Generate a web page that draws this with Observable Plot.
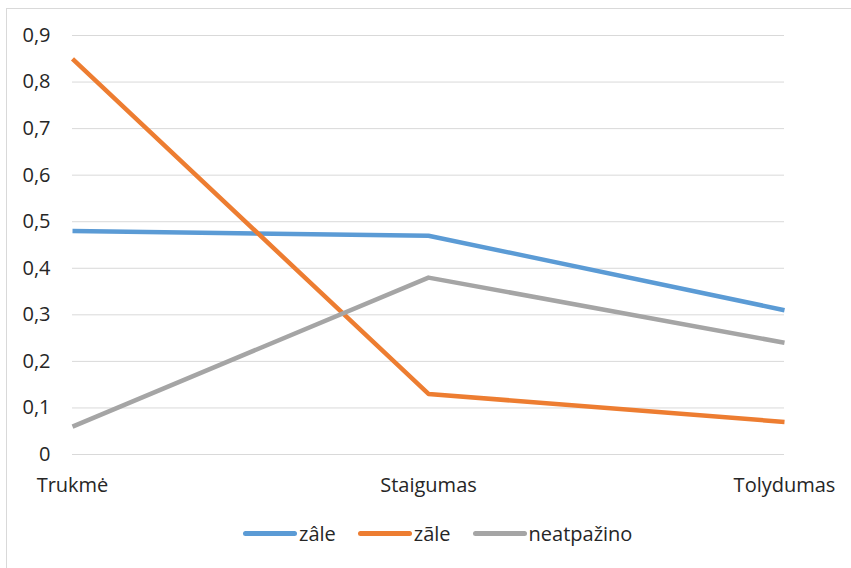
<!DOCTYPE html>
<html>
<head>
<meta charset="utf-8">
<script src="https://cdn.jsdelivr.net/npm/d3@7"></script>
<script src="https://cdn.jsdelivr.net/npm/@observablehq/plot@0.6"></script>
<style>
  body { margin: 0; background: #fff; font-family: "Open Sans", sans-serif; }
  #wrap { position: relative; width: 851px; height: 568px; overflow: hidden; }
  #frame { position: absolute; left: 6px; top: 8px; width: 850px; height: 570px;
           border-left: 1px solid #d9d9d9; border-top: 1px solid #d9d9d9; }
  #chart { position: absolute; left: 0; top: 0; }
  #legend { position: absolute; left: 243px; top: 520px; display: flex; align-items: center;
            font-size: 20px; color: #262626; }
  .item { display: flex; align-items: center; margin-right: 22px; }
  .sw { width: 54px; height: 5px; border-radius: 3px; margin-right: 2px; }
</style>
</head>
<body>
<div id="wrap">
  <div id="frame"></div>
  <div id="chart"></div>
  <div id="legend"></div>
</div>
<script>
const categories = ["Trukmė", "Staigumas", "Tolydumas"];
const seriesNames = ["zâle", "zãle", "neatpažino"];
const zale1 = [0.48, 0.47, 0.31];
const zale2 = [0.85, 0.13, 0.07];
const neatpazino = [0.06, 0.38, 0.24];
const colors = ["#5B9BD5", "#ED7D31", "#A5A5A5"];
const yTicks = [0, 0.1, 0.2, 0.3, 0.4, 0.5, 0.6, 0.7, 0.8, 0.9];

const seriesValues = [zale1, zale2, neatpazino];
const data = [];
seriesNames.forEach((s, i) => {
  categories.forEach((c, j) => data.push({series: s, cat: c, value: seriesValues[i][j]}));
});

const fmt = d => d === 0 ? "0" : String(d.toFixed(1)).replace(".", ",");

const chart = Plot.plot({
  width: 851,
  height: 505,
  marginLeft: 72,
  marginRight: 67,
  marginTop: 35,
  marginBottom: 51,
  style: { fontFamily: "Open Sans, sans-serif", fontSize: "20px", color: "#262626", background: "transparent" },
  x: { type: "point", domain: categories, padding: 0, label: null },
  y: { domain: [0, 0.9], ticks: yTicks, label: null },
  color: { domain: seriesNames, range: colors },
  marks: [
    Plot.gridY(yTicks, { stroke: "#d9d9d9", strokeOpacity: 1, strokeWidth: 1 }),
    Plot.axisY(yTicks, { tickSize: 0, tickPadding: 22, tickFormat: fmt, fontSize: 20, fill: "#262626" }),
    Plot.axisX({ tickSize: 0, tickPadding: 23, fontSize: 20, fill: "#262626" }),
    Plot.line(data, { x: "cat", y: "value", z: "series", stroke: "series", strokeWidth: 4.5, strokeLinecap: "butt", strokeLinejoin: "round" })
  ]
});
document.getElementById("chart").appendChild(chart);

const legend = document.getElementById("legend");
seriesNames.forEach((s, i) => {
  const item = document.createElement("div");
  item.className = "item";
  const sw = document.createElement("div");
  sw.className = "sw";
  sw.style.background = colors[i];
  const t = document.createElement("span");
  t.textContent = s;
  item.appendChild(sw);
  item.appendChild(t);
  legend.appendChild(item);
});
</script>
</body>
</html>
